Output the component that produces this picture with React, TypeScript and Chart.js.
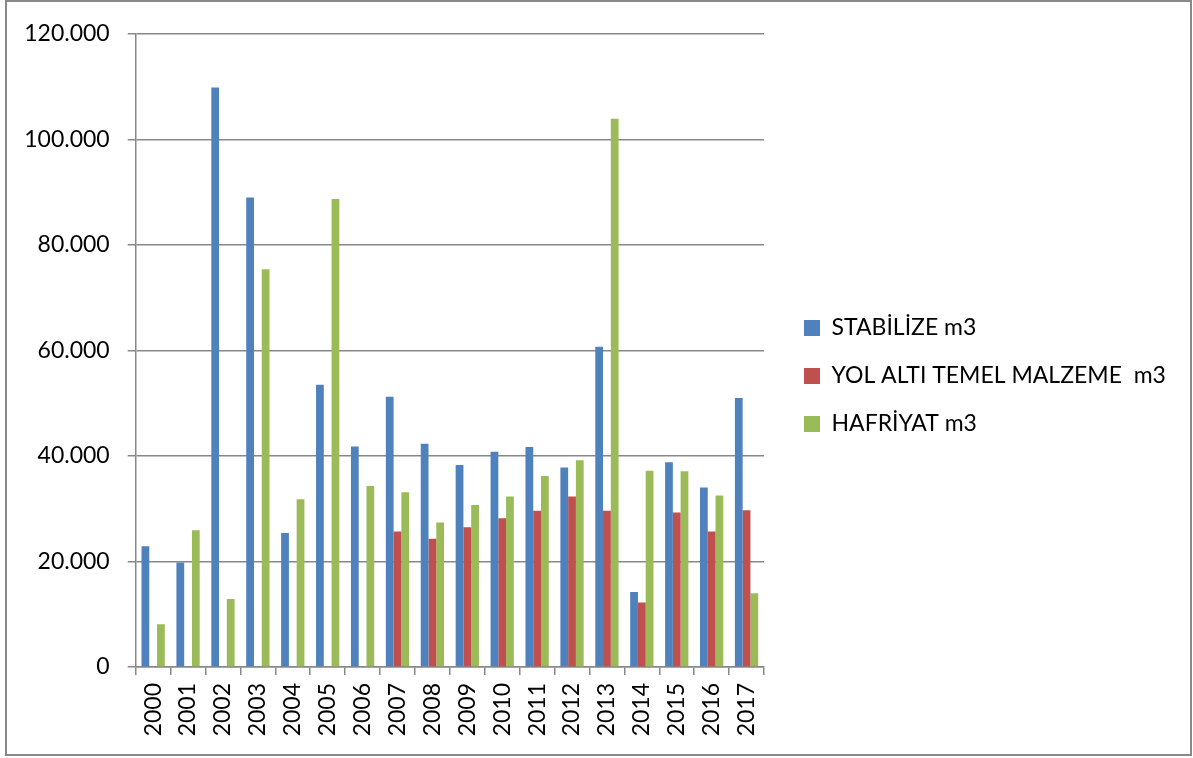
import React, { useEffect, useRef } from 'react';
import { Chart, registerables } from 'chart.js';

Chart.register(...registerables);

const years = ['2000', '2001', '2002', '2003', '2004', '2005', '2006', '2007', '2008', '2009', '2010', '2011', '2012', '2013', '2014', '2015', '2016', '2017'];

const stabilize = [22900, 19800, 109800, 89000, 25400, 53500, 41800, 51200, 42300, 38300, 40800, 41700, 37800, 60700, 14200, 38800, 34000, 51000];

const yolAltiTemel = [null, null, null, null, null, null, null, 25700, 24300, 26500, 28200, 29600, 32300, 29600, 12200, 29300, 25700, 29700];

const hafriyat = [8100, 25900, 12900, 75400, 31800, 88700, 34300, 33100, 27400, 30700, 32300, 36200, 39200, 103900, 37200, 37100, 32500, 14000];

const seriesLabels = ['STABİLİZE m3', 'YOL ALTI TEMEL MALZEME  m3', 'HAFRİYAT m3'];
const seriesColors = ['#4F81BD', '#C0504D', '#9BBB59'];

const yMin = 0;
const yMax = 120000;
const yStep = 20000;

const FONT = { family: 'Lato', size: 23 };
const GRID_COLOR = '#888888';

function formatThousands(v: number): string {
  return String(v).replace(/\B(?=(\d{3})+(?!\d))/g, '.');
}

const legendPlacer = {
  id: 'legendPlacer',
  beforeLayout(chart: any) {
    const lg = chart.legend;
    if (lg && !lg.__patched) {
      const orig = lg.fit.bind(lg);
      lg.fit = function () {
        orig();
        this.width = 426;
      };
      lg.__patched = true;
    }
  },
  afterLayout(chart: any) {
    const lg = chart.legend;
    if (!lg) return;
    lg.left = 772;
    lg.top = 12;
    lg.bottom = 736;
  },
};

export default function App() {
  const canvasRef = useRef<HTMLCanvasElement | null>(null);

  useEffect(() => {
    if (!canvasRef.current) return;
    const chart = new Chart(canvasRef.current, {
      type: 'bar',
      data: {
        labels: years,
        datasets: [
          { label: seriesLabels[0], data: stabilize, backgroundColor: seriesColors[0] },
          { label: seriesLabels[1], data: yolAltiTemel as any, backgroundColor: seriesColors[1] },
          { label: seriesLabels[2], data: hafriyat, backgroundColor: seriesColors[2] },
        ],
      },
      plugins: [legendPlacer],
      options: {
        animation: false,
        responsive: true,
        maintainAspectRatio: false,
        layout: { padding: { top: 29, left: 0, right: 0, bottom: 0 } },
        datasets: { bar: { categoryPercentage: 0.667, barPercentage: 1 } },
        plugins: {
          legend: {
            position: 'right',
            align: 'center',
            labels: {
              boxWidth: 16,
              boxHeight: 16,
              padding: 25,
              color: '#000',
              font: FONT,
            },
          },
          tooltip: { enabled: false },
        },
        scales: {
          x: {
            grid: {
              display: true,
              drawOnChartArea: false,
              drawTicks: true,
              tickLength: 8,
              color: GRID_COLOR,
              lineWidth: 1.5,
              offset: true,
            },
            border: { display: true, color: GRID_COLOR, width: 1.5 },
            ticks: {
              color: '#000',
              font: FONT,
              minRotation: 90,
              maxRotation: 90,
              autoSkip: false,
              padding: 8,
            },
            afterFit: (s: any) => {
              s.height = 87;
            },
          },
          y: {
            min: yMin,
            max: yMax,
            ticks: {
              stepSize: yStep,
              color: '#000',
              font: FONT,
              padding: 18,
              callback: (v: any) => formatThousands(Number(v)),
            },
            grid: { color: GRID_COLOR, lineWidth: 1.5, tickLength: 8, drawTicks: true },
            border: { display: true, color: GRID_COLOR, width: 1.5 },
            afterFit: (s: any) => {
              s.width = 128.7;
            },
          },
        },
      } as any,
    });
    return () => chart.destroy();
  }, []);

  return (
    <div
      style={{
        position: 'absolute',
        left: 5,
        top: 0,
        width: 1187,
        height: 756,
        border: '2px solid #898989',
        boxSizing: 'border-box',
        background: '#fff',
      }}
    >
      <div style={{ position: 'relative', width: '100%', height: '100%' }}>
        <canvas ref={canvasRef} />
      </div>
    </div>
  );
}
